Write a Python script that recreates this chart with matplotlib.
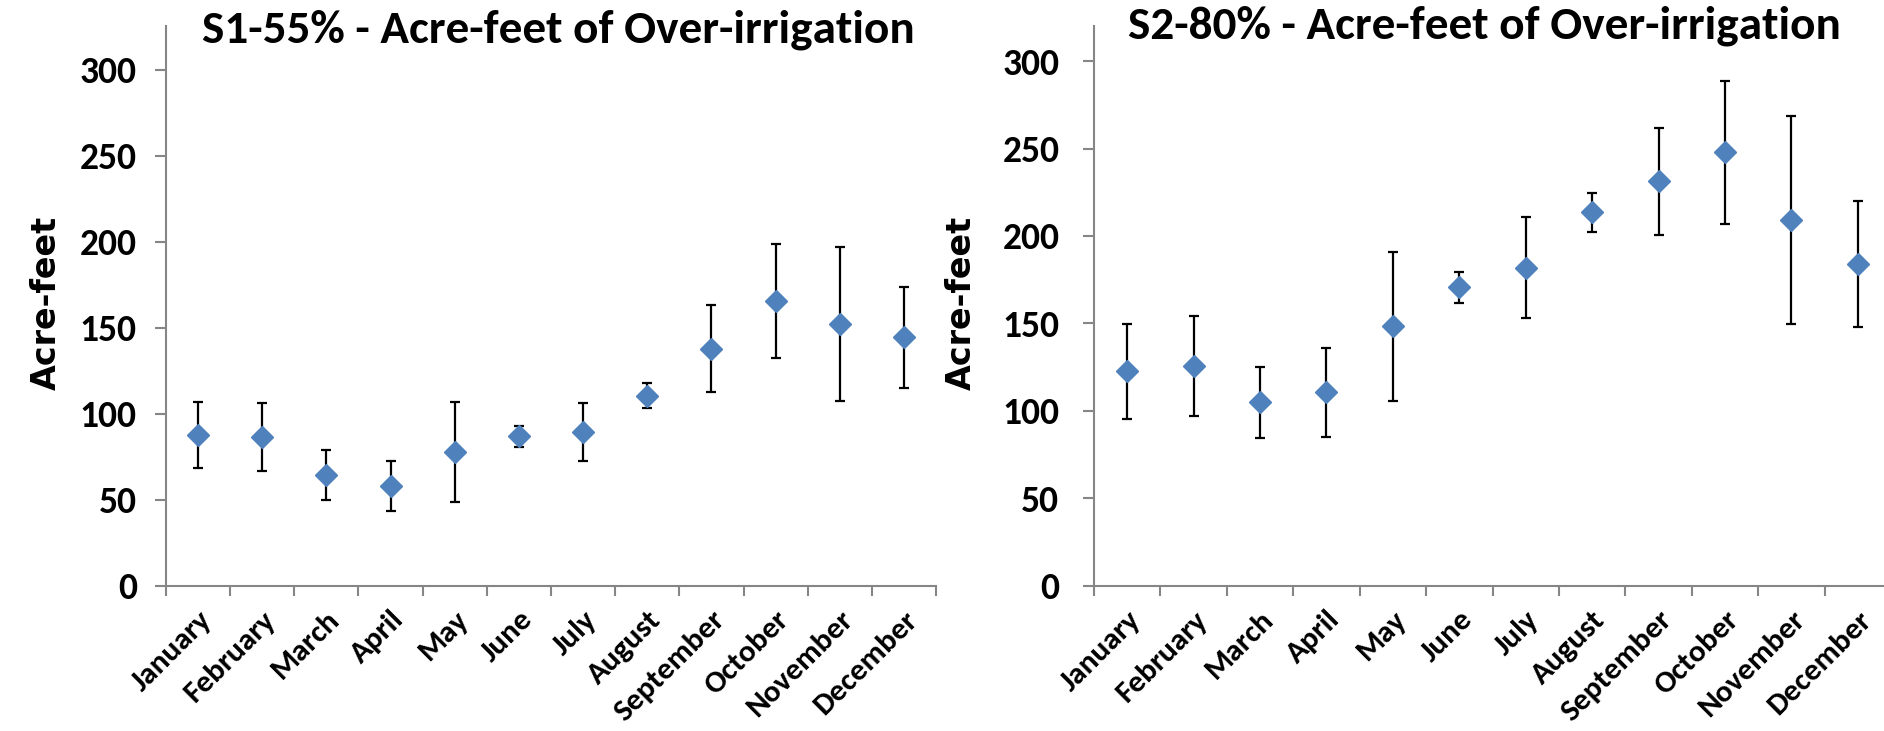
import matplotlib
matplotlib.use("Agg")
import matplotlib.pyplot as plt
from matplotlib import font_manager as fm
import numpy as np

months = ["January", "February", "March", "April", "May", "June", "July",
          "August", "September", "October", "November", "December"]

s1_mean = [87.7, 86.4, 64.3, 57.9, 77.7, 86.8, 89.0, 110.4, 137.5, 165.6, 152.0, 144.4]
s1_upper = [106.6, 106.2, 79.0, 72.3, 106.6, 93.0, 105.9, 118.0, 162.9, 198.8, 197.0, 173.8]
s1_lower = [68.3, 66.8, 49.9, 43.6, 48.7, 80.6, 72.1, 103.0, 112.4, 132.0, 107.1, 114.8]

s2_mean = [122.6, 125.5, 104.9, 110.6, 148.5, 170.6, 181.7, 213.5, 231.2, 247.9, 209.1, 183.9]
s2_upper = [149.8, 154.4, 125.0, 136.0, 190.9, 179.5, 210.9, 224.4, 261.9, 288.8, 268.4, 219.8]
s2_lower = [95.2, 97.0, 84.5, 85.2, 105.8, 161.4, 152.8, 202.3, 200.8, 206.7, 149.8, 148.0]

titles = ["S1-55% - Acre-feet of Over-irrigation", "S2-80% - Acre-feet of Over-irrigation"]
yticks = [0, 50, 100, 150, 200, 250, 300]

available = {f.name for f in fm.fontManager.ttflist}
NARROW_NAME = next((n for n in ['Carlito', 'Open Sans Condensed', 'Roboto Condensed']
                    if n in available), 'DejaVu Sans')
NARROW = [NARROW_NAME, 'DejaVu Sans']
BLUE = '#4F81BD'
GRAY = '#868686'

W, H = 1884, 731
fig = plt.figure(figsize=(W / 100, H / 100), dpi=100)

panels = [
    dict(x0=166, x1=936, ytop=325.3, mean=s1_mean, up=s1_upper, lo=s1_lower,
         title=titles[0], tx=558, ty=43, lx=46, pad=13),
    dict(x0=1094, x1=1891, ytop=320.1, mean=s2_mean, up=s2_upper, lo=s2_lower,
         title=titles[1], tx=1484, ty=38, lx=961, pad=17),
]

y_top_px, y_bot_px = 26, 585.5
for p in panels:
    ax = fig.add_axes([p['x0'] / W, 1 - y_bot_px / H, (p['x1'] - p['x0']) / W,
                       (y_bot_px - y_top_px) / H])
    x = np.arange(len(months))
    mean = np.array(p['mean'])
    up = np.array(p['up']) - mean
    lo = mean - np.array(p['lo'])
    ax.errorbar(x, mean, yerr=[lo, up], fmt='none', ecolor='black',
                elinewidth=1.6, capsize=3.6, capthick=1.6, zorder=2)
    ax.plot(x, mean, linestyle='none', marker='D', markersize=11,
            color=BLUE, markeredgecolor=BLUE, zorder=3)
    ax.set_xlim(-0.5, len(months) - 0.5)
    ax.set_ylim(0, p['ytop'])
    for s in ['top', 'right']:
        ax.spines[s].set_visible(False)
    for s in ['left', 'bottom']:
        ax.spines[s].set_color(GRAY)
        ax.spines[s].set_linewidth(1.5)
    ax.set_yticks(yticks)
    ax.set_yticklabels([str(v) for v in yticks], family=NARROW,
                       fontsize=27, fontweight='bold')
    ax.tick_params(axis='y', direction='out', length=8, width=1.5,
                   color=GRAY, pad=p['pad'])
    ax.set_xticks(np.arange(-0.5, len(months), 1.0))
    ax.set_xticklabels([])
    ax.set_xticks(x, minor=True)
    ax.set_xticklabels(months, minor=True, rotation=45, ha='right',
                       va='top', rotation_mode='anchor', family=NARROW,
                       fontsize=22.5, fontweight='bold')
    ax.tick_params(axis='x', which='major', direction='out', length=7.5,
                   width=1.5, color=GRAY)
    ax.tick_params(axis='x', which='minor', length=0, pad=15)
    fig.text(p['tx'] / W, 1 - p['ty'] / H, p['title'], ha='center', va='baseline',
             family=NARROW, fontsize=34, fontweight='bold')
    fig.text(p['lx'] / W, 1 - 303 / H, 'Acre-feet', ha='center', va='center',
             rotation=90, fontsize=24, fontweight='bold')

fig.savefig('out.png', dpi=100)
